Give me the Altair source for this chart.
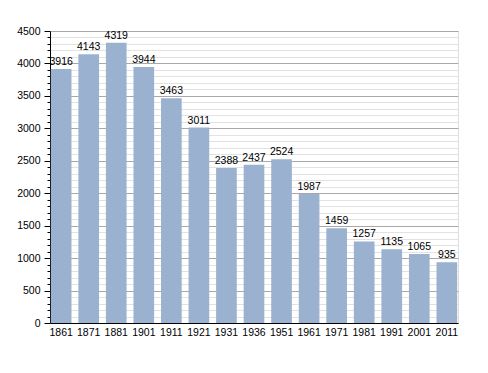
import altair as alt
import pandas as pd

years = ["1861", "1871", "1881", "1901", "1911", "1921", "1931", "1936",
         "1951", "1961", "1971", "1981", "1991", "2001", "2011"]
population = [3916, 4143, 4319, 3944, 3463, 3011, 2388, 2437,
              2524, 1987, 1459, 1257, 1135, 1065, 935]
y_ticks = list(range(0, 4501, 100))

df = pd.DataFrame({"year": years, "pop": population})

FONT = "Liberation Sans"

xaxis = alt.Axis(labelAngle=0, ticks=False, domainColor="black",
                 labelFontSize=10.5, labelColor="black", labelFont=FONT,
                 labelPadding=4, grid=False)
yaxis = alt.Axis(values=y_ticks,
                 labelExpr="datum.value % 500 === 0 ? datum.label : ''",
                 format="d",
                 labelOverlap=False,
                 labelFontSize=10.5, labelColor="black", labelFont=FONT,
                 domainColor="black",
                 tickColor="black",
                 tickSize={"condition": {"test": "datum.value % 500 === 0", "value": 6}, "value": 3},
                 gridColor={"condition": {"test": "datum.value % 500 === 0", "value": "#a8a8a8"}, "value": "#e2e2e2"},
                 gridOpacity=1,
                 labelPadding=4)

xenc = alt.X("year:N", sort=years, title=None,
             scale=alt.Scale(paddingInner=0.25, paddingOuter=0.03),
             axis=xaxis)
yenc = alt.Y("pop:Q", title=None,
             scale=alt.Scale(domain=[0, 4500], nice=False, zero=True),
             axis=yaxis)

bars = alt.Chart(df).mark_bar(color="#9ab2cf").encode(x=xenc, y=yenc)

labels = alt.Chart(df).mark_text(baseline="bottom", dy=-2, fontSize=10.5, font=FONT,
                                 color="black").encode(
    x=xenc,
    y=yenc,
    text=alt.Text("pop:Q", format="d"),
)

chart = (bars + labels).properties(
    width=408, height=292,
    autosize=alt.AutoSizeParams(type="none"),
    padding={"left": 42, "top": 23, "right": 22, "bottom": 42},
).configure_view(stroke=None).configure(background="white")

chart.save("out.html", embed_options={"renderer": "svg", "actions": False})
